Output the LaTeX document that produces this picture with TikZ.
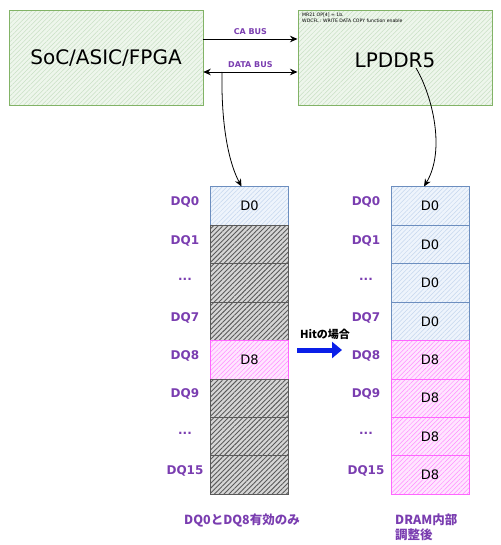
\documentclass[tikz,border=0pt]{standalone}
\usepackage{fontspec}
\setmainfont{DejaVu Sans}
\newfontfamily\jp{Noto Sans CJK JP}
\usetikzlibrary{patterns.meta,arrows.meta,calc}
\newcommand\myell{...}
\definecolor{grn}{HTML}{82B366}
\definecolor{grnfill}{HTML}{EEF6EC}
\definecolor{grnh}{HTML}{C9E0C4}
\definecolor{blu}{HTML}{6C8EBF}
\definecolor{blufill}{HTML}{EEF4FC}
\definecolor{bluh}{HTML}{C5D6EE}
\definecolor{pnk}{HTML}{FF66FF}
\definecolor{pnkfill}{HTML}{FFE6FF}
\definecolor{pnkh}{HTML}{FF8CFF}
\definecolor{gryh}{HTML}{5A5A5A}
\definecolor{purp}{HTML}{7A3DB0}
\definecolor{hitblue}{HTML}{0A1FE8}
\tikzset{
  hatch/.style n args={3}{draw=#1,line width=1pt,preaction={fill=#2},
     pattern={Lines[angle=45,distance=3.2pt,line width=0.5pt]},pattern color=#3},
  bigbox/.style={hatch={grn}{grnfill}{grnh},minimum width=194pt,minimum height=95pt,
     inner sep=0pt,font=\fontsize{20}{24}\selectfont,text=black},
  cellbase/.style={minimum width=78pt,minimum height=38.4pt,inner sep=0pt,
     font=\fontsize{13}{15}\selectfont},
  bluecell/.style={cellbase,hatch={blu}{blufill}{bluh}},
  pinkcell/.style={cellbase,hatch={pnk}{pnkfill}{pnkh}},
  graycell/.style={cellbase,draw=gryh,line width=1pt,preaction={fill=gryh!25},
     pattern={Lines[angle=45,distance=3.4pt,line width=0.9pt]},pattern color=gryh},
  dqlab/.style={text=purp,font=\bfseries\fontsize{12}{14}\selectfont},
  buslab/.style={text=purp,font=\bfseries\fontsize{8}{10}\selectfont},
  jplab/.style={text=purp,font=\jp\bfseries\fontsize{12.5}{15}\selectfont},
  tip/.tip={Stealth[length=7.5pt,width=6.5pt]},
  conn/.style={line width=0.8pt,-tip},
}
\begin{document}
\begin{tikzpicture}[x=1pt,y=-1pt]
\useasboundingbox (0,0) rectangle (500,545);
% top boxes
\node[bigbox] (soc) at (106,58) {SoC/ASIC/FPGA};
\node[bigbox] (lp) at (395,58) {};
\node (lptext) at (395,60) {\fontsize{20}{24}\selectfont LPDDR5};
\node[anchor=north west,inner sep=0pt,align=left,font=\fontsize{4.6}{6}\selectfont] (note) at (302,13)
  {MR21 OP[4] = 1b.\\WDCFL : WRITE DATA COPY function enable};
% buses
\draw[conn] ([yshift=19pt]soc.east) -- ([yshift=19pt]lp.west)
  node[buslab,midway,above=1pt] (ca) {CA BUS};
\draw[line width=0.8pt,tip-tip]
  ([yshift=-14pt]soc.east) -- ([yshift=-14pt]lp.west)
  node[buslab,midway,above=1pt] (db) {DATA BUS};
\coordinate (tap) at (222,72);
% left column
\node[bluecell] (L0) at (249.5,206.2) {D0};
\node[graycell] (L1) at (249.5,244.6) {};
\node[graycell] (L2) at (249.5,283.0) {};
\node[graycell] (L3) at (249.5,321.4) {};
\node[pinkcell] (L4) at (249.5,359.8) {D8};
\node[graycell] (L5) at (249.5,398.2) {};
\node[graycell] (L6) at (249.5,436.6) {};
\node[graycell] (L7) at (249.5,475.0) {};
% right column
\node[bluecell] (R0) at (430,206.2) {D0};
\node[bluecell] (R1) at (430,244.6) {D0};
\node[bluecell] (R2) at (430,283.0) {D0};
\node[bluecell] (R3) at (430,321.4) {D0};
\node[pinkcell] (R4) at (430,359.8) {D8};
\node[pinkcell] (R5) at (430,398.2) {D8};
\node[pinkcell] (R6) at (430,436.6) {D8};
\node[pinkcell] (R7) at (430,475.0) {D8};
% DQ labels
\foreach \t/\y [count=\i] in {DQ0/202,DQ1/241,\myell/279,DQ7/318,DQ8/356,DQ9/394,\myell/433,DQ15/471}{
  \node[dqlab] (ldq\i) at (185,\y) {\t};
  \node[dqlab] (rdq\i) at (366,\y) {\t};
}
% curves
\draw[conn] (tap) .. controls (221,130) and (230,165) .. ([xshift=-8pt]L0.north);
\coordinate (lpout) at (416,68);
\draw[conn] (lpout) .. controls (432,95) and (446,150) .. ([xshift=-6pt]R0.north);
% hit arrow
\node[font=\jp\bfseries\fontsize{11}{13}\selectfont] (hit) at (325,334) {Hitの場合};
\coordinate (ha) at (297,350);
\coordinate (hb) at (342,350);
\draw[hitblue,line width=5pt,-{Triangle[length=10pt,width=16pt]}] (ha) -- (hb);
% bottom labels
\node[jplab] (cap1) at (242,520) {DQ0とDQ8有効のみ};
\node[jplab,anchor=west,align=left,inner sep=0pt] (cap2) at (395,527) {DRAM内部\\調整後};
\end{tikzpicture}
\end{document}
